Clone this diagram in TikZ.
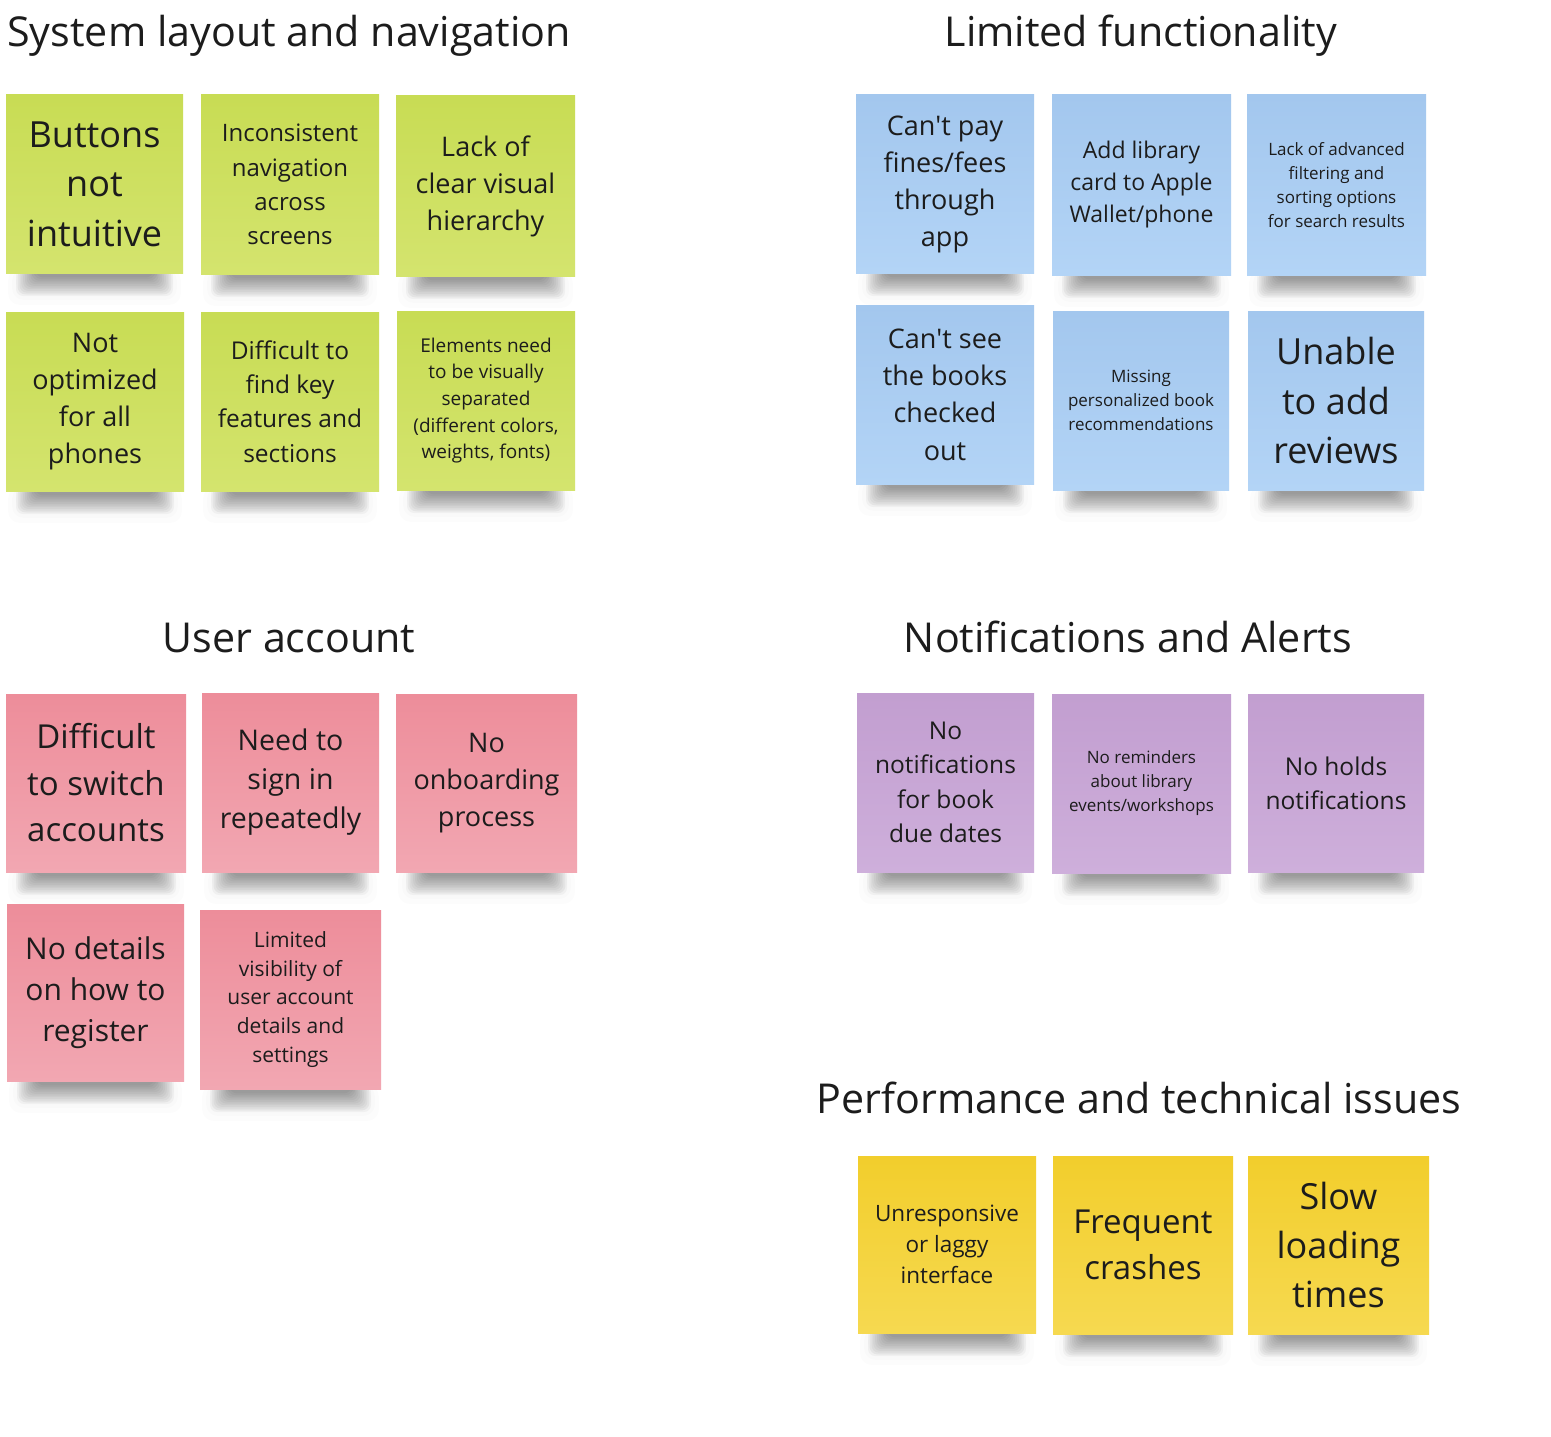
\documentclass[tikz,border=0pt]{standalone}
\usepackage{fontspec}
\setmainfont{Open Sans}
\definecolor{ink}{HTML}{1C1C1C}
\definecolor{gT}{HTML}{C8DC54}\definecolor{gB}{HTML}{D4E46E}
\definecolor{bT}{HTML}{A3C7EE}\definecolor{bB}{HTML}{B3D4F6}
\definecolor{pT}{HTML}{ED8D9A}\definecolor{pB}{HTML}{F2A7B2}
\definecolor{uT}{HTML}{C29ED0}\definecolor{uB}{HTML}{CEAFDB}
\definecolor{yT}{HTML}{F2CE2C}\definecolor{yB}{HTML}{F6D950}
\tikzset{
  note/.style={inner sep=0pt, align=center, text=ink},
  ngreen/.style={note, top color=gT, bottom color=gB},
  nblue/.style={note, top color=bT, bottom color=bB},
  npink/.style={note, top color=pT, bottom color=pB},
  npurple/.style={note, top color=uT, bottom color=uB},
  nyellow/.style={note, top color=yT, bottom color=yB},
  shadowpiece/.style={fill=black, fill opacity=0.034, rounded corners=7pt},
  halopiece/.style={fill=black, fill opacity=0.012, rounded corners=12pt},
  title/.style={font=\fontsize{41.2}{48}\selectfont, text=ink, inner sep=0pt, anchor=base}
}
\newcommand\sticky[9]{%
  \pgfmathsetmacro\sw{#4-#2}\pgfmathsetmacro\sh{#5-#3}%
  \pgfmathsetmacro\scx{(#2+#4)/2}\pgfmathsetmacro\scy{-(#3+#5)/2}%
  \foreach \k in {0,1,2}{%
    \fill[halopiece] ({#2+2+\k*4},{-#5+4}) rectangle ({#4-2-\k*4},{-#5-32+\k*5});}
  \foreach \k in {0,...,11}{%
    \fill[shadowpiece] ({#2+10+\k*1.8},{-#5+4}) rectangle ({#4-10-\k*1.8},{-#5-23+\k*1.7});}
  \node[#6, minimum width=\sw pt, minimum height=\sh pt, font=\fontsize{#7}{#8}\selectfont] (#1) at (\scx,\scy) {#9};}
\begin{document}
\begin{tikzpicture}[x=1pt,y=1pt]
\useasboundingbox[fill=white] (0,0) rectangle (1551,-1437);
% titles
\node[title] (t1) at (289,-47) {System layout and navigation};
\node[title] (t2) at (1141,-47) {Limited functionality};
\node[title] (t3) at (289,-652) {User account};
\node[title] (t4) at (1128,-652) {Notifications and Alerts};
\node[title] (t5) at (1139,-1113) {Performance and technical issues};
% green
\sticky{g1}{6}{95}{183}{273}{ngreen}{36}{49.5}{Buttons\\not\\intuitive}
\sticky{g2}{201}{95}{379}{274}{ngreen}{24}{34.3}{Inconsistent\\navigation\\across\\screens}
\sticky{g3}{396}{96}{575}{276}{ngreen}{27}{37}{Lack of\\clear visual\\hierarchy}
\sticky{g4}{6}{312}{184}{491}{ngreen}{27}{37}{Not\\optimized\\for all\\phones}
\sticky{g5}{201}{312}{379}{491}{ngreen}{24.5}{34.3}{Difficult to\\find key\\features and\\sections}
\sticky{g6}{397}{311}{575}{490}{ngreen}{19}{26.6}{Elements need\\to be visually\\separated\\(different colors,\\weights, fonts)}
% blue
\sticky{b1}{856}{95}{1034}{273}{nblue}{27}{37}{Can\textquotesingle t pay\\fines/fees\\through\\app}
\sticky{b2}{1052}{95}{1231}{275}{nblue}{23}{32}{Add library\\card to Apple\\Wallet/phone}
\sticky{b3}{1247}{95}{1426}{275}{nblue}{17}{24}{Lack of advanced\\filtering and\\sorting options\\for search results}
\sticky{b4}{856}{305}{1034}{484}{nblue}{27}{37.3}{Can\textquotesingle t see\\the books\\checked\\out}
\sticky{b5}{1053}{311}{1229}{490}{nblue}{17}{24}{Missing\\personalized book\\recommendations}
\sticky{b6}{1248}{311}{1424}{490}{nblue}{36}{49.5}{Unable\\to add\\reviews}
% pink
\sticky{p1}{6}{694}{186}{872}{npink}{33}{46.5}{Difficult\\to switch\\accounts}
\sticky{p2}{202}{693}{379}{872}{npink}{28.5}{39}{Need to\\sign in\\repeatedly}
\sticky{p3}{396}{694}{577}{872}{npink}{27}{37}{No\\onboarding\\process}
\sticky{p4}{7}{904}{184}{1081}{npink}{30}{41}{No details\\on how to\\register}
\sticky{p5}{200}{910}{381}{1089}{npink}{21}{28.75}{Limited\\visibility of\\user account\\details and\\settings}
% purple
\sticky{u1}{857}{693}{1034}{872}{npurple}{24.5}{34.3}{No\\notifications\\for book\\due dates}
\sticky{u2}{1052}{694}{1231}{873}{npurple}{17}{24}{No reminders\\about library\\events/workshops}
\sticky{u3}{1248}{694}{1424}{872}{npurple}{24.5}{34}{No holds\\notifications}
% yellow
\sticky{y1}{858}{1156}{1036}{1333}{nyellow}{22.5}{31}{Unresponsive\\or laggy\\interface}
\sticky{y2}{1053}{1156}{1233}{1334}{nyellow}{33}{45.5}{Frequent\\crashes}
\sticky{y3}{1248}{1156}{1429}{1334}{nyellow}{36}{49}{Slow\\loading\\times}
\end{tikzpicture}
\end{document}
